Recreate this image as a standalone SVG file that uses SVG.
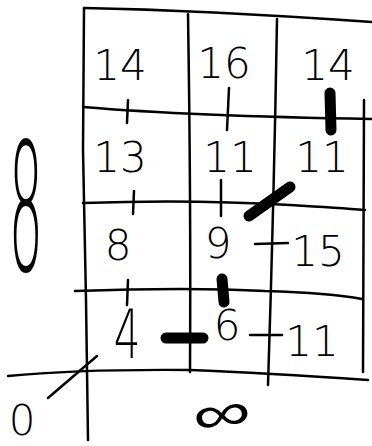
<svg xmlns="http://www.w3.org/2000/svg" width="372" height="446" viewBox="0 0 372 446">
<style>
.ln{fill:none;stroke:#000;stroke-width:2.5;stroke-linecap:round;stroke-linejoin:round}
.tk{fill:none;stroke:#000;stroke-width:2.5;stroke-linecap:round}
.bl{fill:none;stroke:#000;stroke-width:11;stroke-linecap:round}
.n{font-family:"DejaVu Sans","Liberation Sans",sans-serif;font-weight:200;font-size:42px;fill:#000;text-anchor:middle}
</style>
<rect width="372" height="446" fill="#fff"/>
<g id="grid">
<path class="ln" d="M84,8 Q200,10 372,22"/>
<path class="ln" d="M84,8 L83,150 L86,300 L88,440"/>
<path class="ln" d="M188,14 Q191,200 190,372"/>
<path class="ln" d="M277,19 Q274,200 268,385"/>
<path class="ln" d="M364,100 L363,372"/>
<path class="ln" d="M83,107 Q190,116 372,119"/>
<path class="ln" d="M83,203 Q190,199 290,205 Q340,208 365,210"/>
<path class="ln" d="M75,291 Q190,287 265,291 Q330,293 362,299"/>
<path class="ln" d="M8,376 Q80,369 190,370 Q265,373 368,380"/>
<path class="ln" d="M48,398 L97,356"/>
</g>
<g id="ticks">
<path class="tk" d="M128,100 L127,123"/>
<path class="tk" d="M229,88 L227,130"/>
<path class="tk" d="M134,191 L133,214"/>
<path class="tk" d="M221,180 L221,216"/>
<path class="tk" d="M255,244 L288,243"/>
<path class="tk" d="M128,280 L127,305"/>
<path class="tk" d="M250,335 L282,335"/>
</g>
<g id="marks">
<path class="bl" d="M330,93 L331,130"/>
<path class="bl" d="M290,187 L249,216"/>
<path class="bl" d="M222,279 L224,302"/>
<path class="bl" d="M166,338 L203,338"/>
</g>
<g id="labels">
<text class="n" x="120" y="80">14</text>
<text class="n" x="224" y="78">16</text>
<text class="n" x="328" y="80">14</text>
<text class="n" x="120" y="172">13</text>
<text class="n" x="230" y="172">11</text>
<text class="n" x="322" y="172">11</text>
<text class="n" x="118" y="260">8</text>
<text class="n" x="218" y="258">9</text>
<text class="n" x="318" y="266">15</text>
<text class="n" transform="translate(127,358) scale(1,1.6)">4</text>
<text class="n" x="227" y="340">6</text>
<text class="n" x="312" y="356">11</text>
<text class="n" x="22" y="435">0</text>
<text class="n" style="font-size:120px" transform="translate(26,270) scale(0.45,1.48)">8</text>
<text style="font-family:'Liberation Sans',Arial,sans-serif;font-size:48px;text-anchor:middle" transform="translate(224,431) rotate(-8) scale(1.7,1.1)">∞</text>
</g>
</svg>
